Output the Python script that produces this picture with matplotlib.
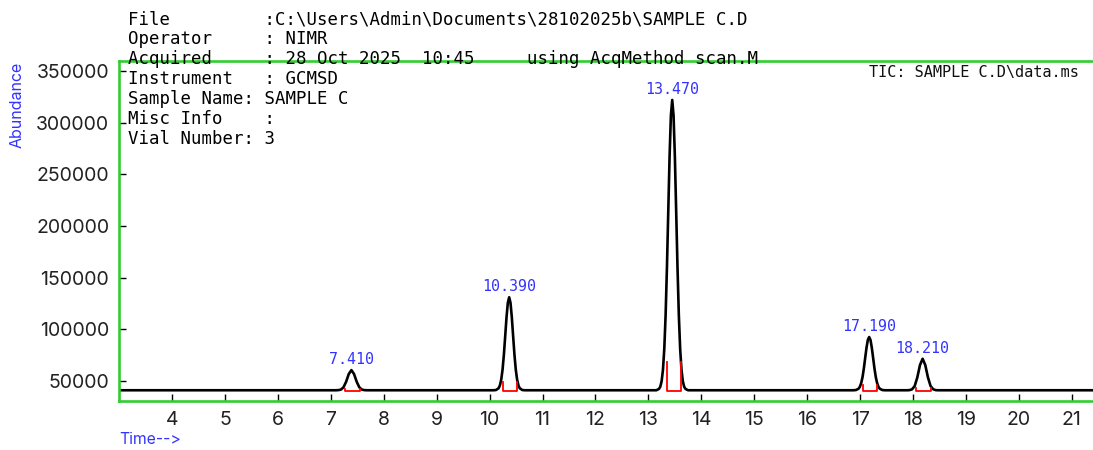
import matplotlib
matplotlib.use("Agg")
import matplotlib.pyplot as plt

# retention times and apex heights of the labelled peaks
peak_labels = [7.410, 10.390, 13.470, 17.190, 18.210]
peak_apex_time = [7.39, 10.37, 13.45, 17.17, 18.18]
peak_apex_height = [60500, 131000, 322000, 92500, 71500]

# integration windows (red baseline markers)
int_start = [7.27, 10.25, 13.35, 17.05, 18.05]
int_end = [7.55, 10.51, 13.61, 17.31, 18.33]
int_top = [42500, 49300, 68400, 46100, 43300]
int_base = 40400

# TIC trace
trace_time = [
    3.0, 7.09, 7.14, 7.19, 7.24, 7.29, 7.34, 7.39, 7.44, 7.49, 7.54, 7.59, 7.64, 7.69,
    10.07, 10.12, 10.17, 10.195, 10.22, 10.245, 10.27, 10.295, 10.32, 10.345, 10.37,
    10.395, 10.42, 10.445, 10.47, 10.495, 10.52, 10.545, 10.57, 10.62, 10.67,
    13.15, 13.20, 13.225, 13.25, 13.275, 13.30, 13.325, 13.35, 13.375, 13.40, 13.425, 13.45,
    13.475, 13.50, 13.525, 13.55, 13.575, 13.60, 13.625, 13.65, 13.675, 13.70, 13.75,
    16.87, 16.92, 16.97, 16.995, 17.02, 17.045, 17.07, 17.095, 17.12, 17.145, 17.17,
    17.195, 17.22, 17.245, 17.27, 17.295, 17.32, 17.345, 17.37, 17.42, 17.47,
    17.88, 17.93, 17.98, 18.03, 18.08, 18.13, 18.18, 18.23, 18.28, 18.33, 18.38, 18.43, 18.48,
    21.5,
]
trace_abund = [
    41000, 41000, 41100, 41600, 43800, 49200, 56700, 60500, 56700, 49200, 43800, 41600, 41100, 41000,
    41000, 41200, 42900, 45700, 51300, 60900, 75300, 93300, 111700, 125700, 131000,
    125700, 111700, 93300, 75300, 60900, 51300, 45700, 42900, 41200, 41000,
    41000, 42300, 44500, 49800, 60800, 80900, 113500, 159300, 213500, 267200, 307100, 322000,
    307100, 267200, 213500, 159300, 113500, 80900, 60800, 49800, 44500, 42300, 41000,
    41000, 41200, 42500, 44400, 48000, 53800, 62200, 72300, 82200, 89700, 92500,
    89700, 82200, 72300, 62200, 53800, 48000, 44400, 42500, 41200, 41000,
    41000, 41100, 41900, 45100, 53500, 65400, 71500, 65400, 53500, 45100, 41900, 41100, 41000,
    41000,
]

y_ticks = [50000, 100000, 150000, 200000, 250000, 300000, 350000]
x_ticks = list(range(4, 22))

header_lines = [
    "File         :C:\\Users\\Admin\\Documents\\28102025b\\SAMPLE C.D",
    "Operator     : NIMR",
    "Acquired     : 28 Oct 2025  10:45     using AcqMethod scan.M",
    "Instrument   : GCMSD",
    "Sample Name: SAMPLE C",
    "Misc Info    :",
    "Vial Number: 3",
]

W, H = 1093, 450
green = "#33cc33"
blue = "#3333ff"

fig = plt.figure(figsize=(W / 100, H / 100), dpi=100)
ax_l, ax_r, ax_t, ax_b = 119, 1097, 61, 401
ax = fig.add_axes([ax_l / W, 1 - ax_b / H, (ax_r - ax_l) / W, (ax_b - ax_t) / H])

ax.plot(trace_time, trace_abund, color="black", lw=1.9, solid_joinstyle="round")

for s, e, top in zip(int_start, int_end, int_top):
    ax.plot([s, s, e, e], [top, int_base, int_base, top], color="red", lw=1.3)

for lab, t, h in zip(peak_labels, peak_apex_time, peak_apex_height):
    ax.annotate(f"{lab:.3f}", (t, h), xytext=(0, 2), textcoords="offset points",
                ha="center", va="bottom", color=blue, fontsize=10.8,
                family="DejaVu Sans Mono")

ax.set_xlim(3.0, 3.0 + (ax_r - ax_l) / 52.94)
ax.set_ylim(30600, 359700)
ax.set_xticks(x_ticks)
ax.set_yticks(y_ticks)
ax.tick_params(direction="in", length=5, width=1, color="black", labelsize=14,
               labelcolor="#222222", pad=7)
for lbl in ax.get_xticklabels() + ax.get_yticklabels():
    lbl.set_family("Inter")
for sp in ax.spines.values():
    sp.set_color(green)
    sp.set_linewidth(1.9)

for i, line in enumerate(header_lines):
    fig.text(128 / W, 1 - (24 + 20 * i) / H, line, family="DejaVu Sans Mono",
             fontsize=12.5, va="baseline", ha="left", color="black")

fig.text(1079 / W, 1 - 77 / H, "TIC: SAMPLE C.D\\data.ms", family="DejaVu Sans Mono",
         fontsize=11, va="baseline", ha="right", color="#111111")

fig.text(17 / W, 1 - 105 / H, "Abundance", rotation=90, ha="center", va="center",
         color=blue, fontsize=11.5, family="Inter")
fig.text(119 / W, 1 - 440 / H, "Time-->", ha="left", va="center",
         color=blue, fontsize=11.3, family="Inter")

fig.savefig("out.png", dpi=100)
